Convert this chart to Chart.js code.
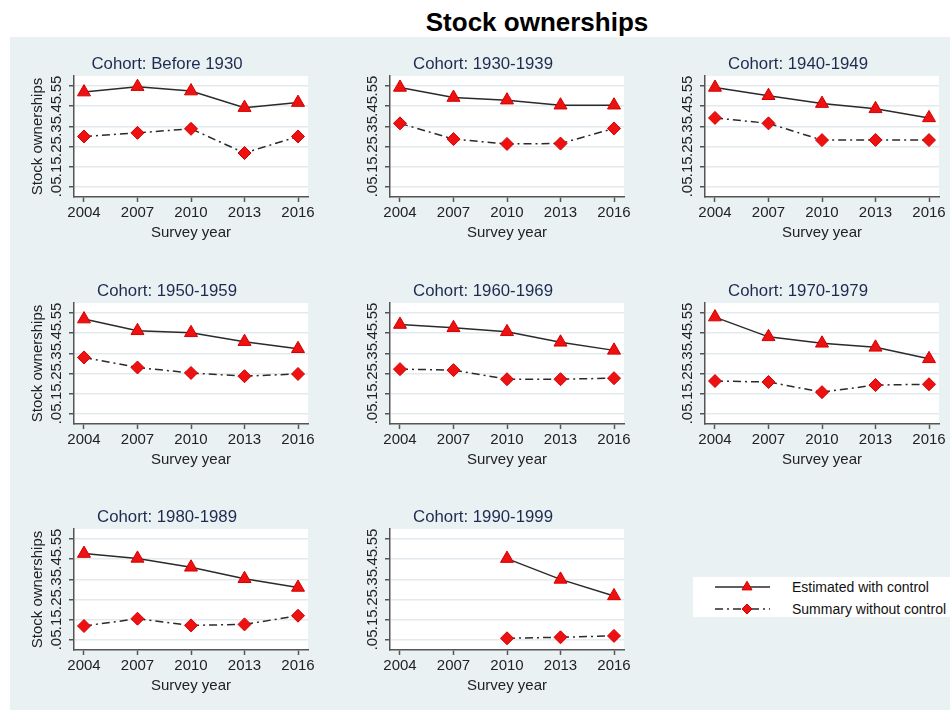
<!DOCTYPE html>
<html>
<head>
<meta charset="utf-8">
<script src="https://cdn.jsdelivr.net/npm/chart.js@4.4.1/dist/chart.umd.min.js"></script>
<style>
  body { margin: 0; background: #fff; overflow: hidden; }
  #page { position: relative; width: 950px; height: 711px; overflow: hidden; font-family: "Liberation Sans", Arial, sans-serif; }
  #region { position: absolute; left: 10px; top: 37px; width: 940px; height: 673px; background: #e9f1f3; }
  #title { position: absolute; left: 337px; width: 400px; top: 6px; line-height: 32px; text-align: center; font-weight: bold; font-size: 26px; color: #000; }
  canvas { position: absolute; }
  #legend { position: absolute; left: 693px; top: 577px; width: 257px; height: 40px; background: #fff; }
  #legend svg { position: absolute; left: 0; top: 0; }
  #legend span { position: absolute; left: 99px; font-size: 14px; line-height: 18px; color: #111; white-space: nowrap; }
</style>
</head>
<body>
<div id="page">
  <div id="region"></div>
  <div id="title">Stock ownerships</div>
  <div id="legend">
    <svg width="90" height="40">
      <line x1="22" y1="10" x2="77" y2="10" stroke="#2a2a2a" stroke-width="1.5"/>
      <polygon points="54,4.2 59,12.9 49,12.9" fill="#ee1111" stroke="#d40000" stroke-width="1"/>
      <line x1="22" y1="32" x2="77" y2="32" stroke="#2a2a2a" stroke-width="1.5" stroke-dasharray="8,4,2,4"/>
      <polygon points="54,27 59,32 54,37 49,32" fill="#ee1111" stroke="#d40000" stroke-width="1"/>
    </svg>
    <span style="top:1px">Estimated with control</span>
    <span style="top:23px">Summary without control</span>
  </div>
</div>
<script>
// data
const years = [2004, 2007, 2010, 2013, 2016]
const cohorts = ['Before 1930', '1930-1939', '1940-1949', '1950-1959', '1960-1969', '1970-1979', '1980-1989', '1990-1999']
const estimated = [
    [0.520, 0.547, 0.525, 0.443, 0.468],
    [0.543, 0.493, 0.480, 0.455, 0.455],
    [0.543, 0.502, 0.463, 0.437, 0.392],
    [0.520, 0.462, 0.452, 0.408, 0.373],
    [0.493, 0.477, 0.457, 0.405, 0.365],
    [0.530, 0.432, 0.400, 0.380, 0.323],
    [0.478, 0.454, 0.410, 0.353, 0.310],
    [null, null, 0.453, 0.350, 0.268]
]
const summary = [
    [0.300, 0.318, 0.338, 0.218, 0.300],
    [0.365, 0.287, 0.263, 0.265, 0.340],
    [0.392, 0.365, 0.282, 0.283, 0.282],
    [0.330, 0.280, 0.253, 0.237, 0.248],
    [0.272, 0.267, 0.222, 0.222, 0.227],
    [0.213, 0.208, 0.158, 0.193, 0.197],
    [0.119, 0.155, 0.122, 0.127, 0.170],
    [null, null, 0.058, 0.063, 0.070]
]
const yTicks = [0.05, 0.15, 0.25, 0.35, 0.45, 0.55]
const yTickLabels = ['.05', '.15', '.25', '.35', '.45', '.55']

Chart.defaults.font.family = '"Liberation Sans", Arial, sans-serif'

// panel placement (plot area left/top)
let plotLefts = [74, 390, 705]
let plotTops = [76, 303, 529]

let plotBg = {
    id: 'plotBg',
    beforeDraw(chart) {
        let a = chart.chartArea
        let ctx = chart.ctx
        ctx.save()
        ctx.fillStyle = '#fff'
        ctx.fillRect(a.left, a.top, a.right - a.left, a.bottom - a.top)
        ctx.restore()
    }
}

let page = document.getElementById('page')
let legendBox = document.getElementById('legend')

cohorts.forEach((cohort, i) => {
    let col = i % 3
    let row = Math.floor(i / 3)
    let canvas = document.createElement('canvas')
    canvas.width = 306
    canvas.height = 205
    canvas.style.left = (plotLefts[col] - 60) + 'px'
    canvas.style.top = (plotTops[row] - 36) + 'px'
    page.insertBefore(canvas, legendBox)

    new Chart(canvas, {
        type: 'line',
        data: {
            datasets: [{
                label: 'Estimated with control',
                data: years.map((y, k) => ({ x: y, y: estimated[i][k] })),
                borderColor: '#2a2a2a',
                borderWidth: 1.5,
                pointStyle: 'triangle',
                pointRadius: 7.5,
                pointBackgroundColor: '#ee1111',
                pointBorderColor: '#d40000',
                pointBorderWidth: 1,
                tension: 0
            }, {
                label: 'Summary without control',
                data: years.map((y, k) => ({ x: y, y: summary[i][k] })),
                borderColor: '#2a2a2a',
                borderWidth: 1.5,
                borderDash: [8, 4, 2, 4],
                pointStyle: 'rectRot',
                pointRadius: 6.5,
                pointBackgroundColor: '#ee1111',
                pointBorderColor: '#d40000',
                pointBorderWidth: 1,
                tension: 0
            }]
        },
        options: {
            responsive: false,
            animation: false,
            devicePixelRatio: 1,
            layout: { padding: { left: 12, right: 12, top: 0, bottom: 0 } },
            plugins: {
                legend: { display: false },
                tooltip: { enabled: false },
                title: {
                    display: true,
                    text: 'Cohort: ' + cohort,
                    color: '#1d2b50',
                    font: { size: 16.8, weight: 'normal' },
                    padding: { top: 14.4, bottom: 1.4 }
                }
            },
            scales: {
                x: {
                    type: 'linear',
                    min: years[0] - 0.56,
                    max: years[years.length - 1] + 0.56,
                    afterBuildTicks: s => { s.ticks = years.map(v => ({ value: v })) },
                    afterFit: s => { s.height = 48 },
                    ticks: { autoSkip: false, maxRotation: 0, padding: 2, color: '#222', font: { size: 15 }, callback: v => String(v) },
                    grid: { drawOnChartArea: false, tickColor: '#555', tickLength: 5, tickWidth: 1.5 },
                    border: { color: '#555', width: 1.5 },
                    title: { display: true, text: 'Survey year', color: '#222', font: { size: 15 }, padding: { top: 0, bottom: 3 } }
                },
                y: {
                    min: 0,
                    max: 0.6,
                    afterBuildTicks: s => { s.ticks = yTicks.map(v => ({ value: v })) },
                    afterFit: s => { s.width = 48 },
                    ticks: {
                        autoSkip: false, minRotation: 90, maxRotation: 90, crossAlign: 'center', padding: 2,
                        color: '#222', font: { size: 15 }, callback: (v, k) => yTickLabels[k]
                    },
                    grid: { color: '#e2eaed', lineWidth: 1.5, tickColor: '#555', tickLength: 5, tickWidth: 1.5 },
                    border: { color: '#555', width: 1.5 },
                    title: { display: col == 0, text: 'Stock ownerships', color: '#222', font: { size: 15 }, padding: { top: 3, bottom: 0 } }
                }
            }
        },
        plugins: [plotBg]
    })
})
</script>
</body>
</html>
